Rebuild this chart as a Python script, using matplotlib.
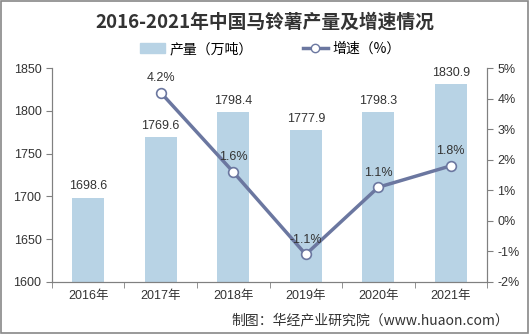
import matplotlib
matplotlib.use("Agg")
import matplotlib.pyplot as plt
from matplotlib.patches import Rectangle
from matplotlib.lines import Line2D
from matplotlib.patches import Patch

plt.rcParams['font.family'] = ['Liberation Sans', 'Noto Sans CJK SC', 'DejaVu Sans']

# 数据
years = ["2016年", "2017年", "2018年", "2019年", "2020年", "2021年"]
output = [1698.6, 1769.6, 1798.4, 1777.9, 1798.3, 1830.9]
growth_years = ["2017年", "2018年", "2019年", "2020年", "2021年"]
growth = [4.2, 1.6, -1.1, 1.1, 1.8]

bar_color = "#b8d3e5"
line_color = "#6b77a0"
axis_color = "#808080"

fig = plt.figure(figsize=(5.3, 3.34), dpi=100)
ax = fig.add_axes([0.098, 0.156, 0.821, 0.64])
ax2 = ax.twinx()

x = list(range(len(years)))
ax.bar(x, output, width=0.44, color=bar_color, zorder=1)
ax.set_ylim(1600, 1850)
ax.set_yticks(range(1600, 1851, 50))
ax.set_xlim(-0.5, len(years) - 0.5)
ax.set_xticks(x)
ax.set_xticklabels(years, fontsize=9, color="#333333")
ax.set_xticks([i - 0.5 for i in range(len(years) + 1)], minor=True)
ax.tick_params(axis="x", which="major", length=0, pad=6)
ax.tick_params(axis="x", which="minor", length=4, color=axis_color)
ax.tick_params(axis="y", length=4, color=axis_color, labelsize=9, labelcolor="#333333")
for i, v in zip(x, output):
    ax.text(i, v + 6, f"{v:.1f}", ha="center", va="bottom", fontsize=9, color="#333333")

gx = [years.index(y) for y in growth_years]
ax2.plot(gx, growth, color=line_color, lw=2.5, marker="o", ms=7,
         mfc="white", mec=line_color, mew=1.2, zorder=3)
ax2.set_ylim(-2, 5)
ax2.set_yticks(range(-2, 6))
ax2.set_yticklabels([f"{t}%" for t in range(-2, 6)])
ax2.tick_params(axis="y", length=4, color=axis_color, labelsize=9, labelcolor="#333333")
for i, v in zip(gx, growth):
    ax2.text(i, v + 0.28, f"{v}%", ha="center", va="bottom", fontsize=9, color="#333333")

for a in (ax, ax2):
    a.spines["top"].set_visible(False)
    for s in ("left", "right", "bottom"):
        a.spines[s].set_color(axis_color)

ax.set_zorder(ax2.get_zorder() - 1)
ax2.patch.set_visible(False)

fig.text(0.5, 0.935, "2016-2021年中国马铃薯产量及增速情况", ha="center", va="center",
         fontsize=13.5, fontweight="bold", color="#333333",
         family=['Noto Sans CJK SC', 'DejaVu Sans'])

handles = [Patch(color=bar_color),
           Line2D([], [], color=line_color, lw=2.5, marker="o", ms=6,
                  mfc="white", mec=line_color)]
fig.legend(handles, ["产量（万吨）", "增速（%）"], loc="center", bbox_to_anchor=(0.51, 0.853),
           ncol=2, frameon=False, handlelength=1.8, handletextpad=0.3, columnspacing=3.6,
           prop={'family': ['Noto Sans CJK SC', 'DejaVu Sans'], 'size': 10})

fig.text(0.96, 0.04, "制图：华经产业研究院（www.huaon.com）", ha="right", va="center",
         fontsize=10, color="#333333", family=['Noto Sans CJK SC', 'DejaVu Sans'])

fig.patches.append(Rectangle((0.002, 0.003), 0.995, 0.994, transform=fig.transFigure,
                             fill=False, edgecolor="#888888", lw=1.2))

fig.savefig("out.png", dpi=100)
